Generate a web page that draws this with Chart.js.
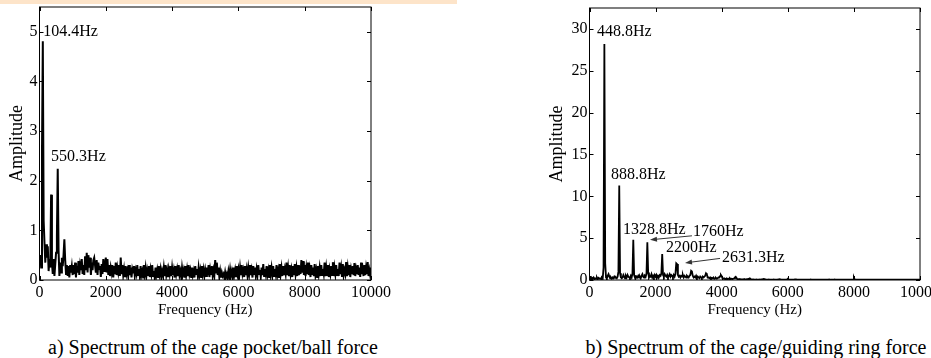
<!DOCTYPE html>
<html>
<head>
<meta charset="utf-8">
<script src="https://cdn.jsdelivr.net/npm/chart.js@4.4.1/dist/chart.umd.min.js"></script>
<style>
  body { margin: 0; background: #fff; width: 931px; height: 358px; overflow: hidden; position: relative; font-family: "Liberation Serif", "Times New Roman", serif; }
  .band { position: absolute; left: 0; top: 0; width: 457px; height: 4px; background: #fde4c9; }
  #leftBox { position: absolute; left: 0; top: 0; width: 400px; height: 320px; }
  #rightBox { position: absolute; left: 540px; top: 0; width: 391px; height: 320px; }
  .caption { position: absolute; top: 336px; font-size: 20px; line-height: 23px; color: #000; white-space: nowrap; }
</style>
</head>
<body>
<div class="band"></div>
<div id="leftBox"><canvas id="leftChart"></canvas></div>
<div id="rightBox"><canvas id="rightChart"></canvas></div>
<div class="caption" id="capA">a) Spectrum of the cage pocket/ball force</div>
<div class="caption" id="capB">b) Spectrum of the cage/guiding ring force</div>

<script>
// spectra sampled every 25 Hz, 0 .. 10000 Hz
const freqStep = 25;

// a) cage pocket/ball force
const pocketAmp = [
  0.30, 0.50, 0.25, 2.60, 4.81, 1.20, 0.75, 0.35, 0.72, 0.45, 0.68, 0.18, 0.42, 0.25, 1.72, 0.35, 0.12, 0.42, 0.08, 0.32,
  0.55, 0.90, 2.24, 0.60, 0.08, 0.35, 0.15, 0.45, 0.28, 0.50, 0.82, 0.40, 0.12, 0.30, 0.08, 0.28, 0.05, 0.30, 0.15, 0.28,
  0.10, 0.30, 0.12, 0.35, 0.05, 0.28, 0.15, 0.38, 0.10, 0.30, 0.20, 0.42, 0.12, 0.30, 0.10, 0.48, 0.20, 0.55, 0.15, 0.50,
  0.25, 0.45, 0.10, 0.35, 0.20, 0.40, 0.45, 0.30, 0.15, 0.40, 0.10, 0.35, 0.22, 0.28, 0.06, 0.32, 0.12, 0.42, 0.18, 0.30,
  0.45, 0.15, 0.42, 0.10, 0.30, 0.08, 0.25, 0.15, 0.30, 0.05, 0.28, 0.12, 0.35, 0.10, 0.25, 0.15, 0.30, 0.08, 0.45, 0.12,
  0.30, 0.10, 0.22, 0.06, 0.28, 0.12, 0.20, 0.08, 0.30, 0.10, 0.25, 0.05, 0.22, 0.15, 0.28, 0.08, 0.20, 0.12, 0.30, 0.10,
  0.22, 0.08, 0.28, 0.10, 0.18, 0.05, 0.30, 0.12, 0.25, 0.08, 0.20, 0.10, 0.28, 0.06, 0.22, 0.12, 0.30, 0.08, 0.18, 0.05,
  0.25, 0.10, 0.20, 0.06, 0.28, 0.12, 0.22, 0.05, 0.18, 0.10, 0.25, 0.08, 0.30, 0.10, 0.20, 0.06, 0.22, 0.12, 0.28, 0.08,
  0.25, 0.10, 0.20, 0.05, 0.28, 0.12, 0.22, 0.08, 0.30, 0.10, 0.18, 0.06, 0.25, 0.12, 0.20, 0.05, 0.28, 0.10, 0.22, 0.08,
  0.30, 0.12, 0.20, 0.06, 0.25, 0.10, 0.18, 0.05, 0.28, 0.12, 0.22, 0.08, 0.25, 0.10, 0.20, 0.06, 0.28, 0.12, 0.22, 0.08,
  0.20, 0.08, 0.25, 0.10, 0.30, 0.06, 0.22, 0.12, 0.28, 0.08, 0.20, 0.10, 0.40, 0.15, 0.35, 0.10, 0.25, 0.06, 0.18, 0.05,
  0.15, 0.08, 0.12, 0.05, 0.16, 0.06, 0.12, 0.04, 0.18, 0.08, 0.22, 0.10, 0.18, 0.05, 0.25, 0.10, 0.20, 0.06, 0.28, 0.12,
  0.22, 0.08, 0.25, 0.10, 0.30, 0.12, 0.20, 0.06, 0.28, 0.10, 0.22, 0.08, 0.25, 0.12, 0.30, 0.10, 0.20, 0.05, 0.28, 0.12,
  0.25, 0.08, 0.22, 0.10, 0.30, 0.12, 0.20, 0.06, 0.25, 0.10, 0.32, 0.08, 0.22, 0.12, 0.28, 0.10, 0.20, 0.06, 0.30, 0.12,
  0.25, 0.10, 0.28, 0.08, 0.22, 0.12, 0.30, 0.10, 0.20, 0.06, 0.32, 0.12, 0.25, 0.08, 0.28, 0.10, 0.22, 0.12, 0.35, 0.10,
  0.25, 0.08, 0.30, 0.12, 0.22, 0.06, 0.28, 0.10, 0.32, 0.12, 0.25, 0.08, 0.30, 0.10, 0.28, 0.12, 0.40, 0.15, 0.38, 0.10,
  0.30, 0.08, 0.25, 0.12, 0.35, 0.10, 0.22, 0.06, 0.30, 0.12, 0.25, 0.08, 0.32, 0.10, 0.20, 0.06, 0.28, 0.12, 0.25, 0.08,
  0.30, 0.10, 0.22, 0.12, 0.35, 0.08, 0.25, 0.10, 0.30, 0.06, 0.22, 0.12, 0.28, 0.10, 0.36, 0.08, 0.25, 0.12, 0.30, 0.10,
  0.22, 0.08, 0.35, 0.12, 0.25, 0.06, 0.32, 0.10, 0.20, 0.12, 0.36, 0.08, 0.25, 0.10, 0.30, 0.06, 0.22, 0.12, 0.28, 0.10,
  0.34, 0.08, 0.22, 0.12, 0.30, 0.10, 0.25, 0.06, 0.35, 0.12, 0.22, 0.08, 0.30, 0.10, 0.25, 0.12, 0.36, 0.08, 0.20, 0.10,
  0.25
];

// b) cage/guiding ring force
const ringAmp = [
  0.05, 0.20, 0.10, 0.25, 0.15, 0.30, 0.10, 0.20, 0.15, 0.30, 0.10, 0.25, 0.15, 0.20, 0.10, 0.30, 0.20, 1.50, 28.2, 2.00,
  0.30, 0.20, 0.50, 0.70, 0.40, 0.20, 0.30, 0.15, 0.30, 0.20, 0.40, 0.25, 0.30, 0.20, 0.40, 1.00, 11.3, 0.80, 0.30, 0.20,
  0.30, 0.60, 0.40, 0.20, 0.50, 0.30, 0.60, 0.40, 0.30, 0.20, 0.50, 0.30, 0.80, 4.80, 0.60, 0.30, 0.20, 0.40, 0.30, 0.50,
  0.30, 0.40, 0.20, 0.50, 0.70, 0.40, 0.30, 0.50, 0.40, 0.80, 4.50, 0.90, 0.30, 0.50, 0.40, 0.70, 0.30, 0.50, 0.30, 0.60,
  0.40, 0.60, 0.30, 0.50, 0.40, 0.60, 0.50, 0.80, 3.10, 0.60, 0.40, 0.70, 0.50, 0.40, 0.60, 0.30, 0.50, 0.70, 0.40, 0.60,
  0.50, 0.30, 0.60, 0.40, 0.70, 2.00, 1.90, 0.60, 0.40, 0.50, 0.30, 0.50, 0.40, 0.60, 0.30, 0.50, 0.40, 0.30, 0.50, 0.40,
  0.30, 0.50, 0.60, 1.10, 1.00, 0.50, 0.30, 0.40, 0.30, 0.50, 0.20, 0.40, 0.30, 0.20, 0.40, 0.30, 0.20, 0.40, 0.30, 0.40,
  0.50, 0.80, 0.70, 0.30, 0.30, 0.20, 0.30, 0.15, 0.25, 0.20, 0.30, 0.15, 0.20, 0.25, 0.15, 0.20, 0.30, 0.30, 0.45, 0.60,
  0.45, 0.20, 0.15, 0.20, 0.10, 0.15, 0.20, 0.10, 0.15, 0.10, 0.20, 0.10, 0.15, 0.10, 0.15, 0.20, 0.30, 0.38, 0.25, 0.10,
  0.08, 0.12, 0.05, 0.10, 0.08, 0.05, 0.10, 0.06, 0.08, 0.05, 0.10, 0.06, 0.12, 0.15, 0.20, 0.12, 0.05, 0.08, 0.05, 0.06,
  0.05, 0.03, 0.06, 0.04, 0.05, 0.03, 0.07, 0.04, 0.06, 0.08, 0.10, 0.12, 0.10, 0.06, 0.04, 0.05, 0.03, 0.06, 0.04, 0.05,
  0.03, 0.05, 0.04, 0.06, 0.03, 0.05, 0.04, 0.03, 0.06, 0.08, 0.10, 0.08, 0.05, 0.04, 0.03, 0.05, 0.04, 0.03, 0.05, 0.04,
  0.15, 0.06, 0.04, 0.03, 0.05, 0.04, 0.03, 0.05, 0.06, 0.08, 0.06, 0.04, 0.03, 0.04, 0.03, 0.05, 0.04, 0.03, 0.05, 0.04,
  0.03, 0.04, 0.03, 0.05, 0.04, 0.03, 0.04, 0.05, 0.06, 0.05, 0.03, 0.04, 0.03, 0.05, 0.04, 0.03, 0.04, 0.03, 0.05, 0.04,
  0.03, 0.04, 0.03, 0.05, 0.04, 0.03, 0.04, 0.03, 0.05, 0.04, 0.06, 0.05, 0.03, 0.04, 0.03, 0.04, 0.03, 0.05, 0.04, 0.03,
  0.04, 0.03, 0.04, 0.03, 0.05, 0.04, 0.03, 0.04, 0.03, 0.04, 0.03, 0.05, 0.04, 0.03, 0.04, 0.03, 0.04, 0.03, 0.05, 0.06,
  0.30, 0.06, 0.04, 0.03, 0.04, 0.03, 0.04, 0.03, 0.04, 0.03, 0.04, 0.03, 0.04, 0.03, 0.04, 0.05, 0.03, 0.04, 0.03, 0.04,
  0.03, 0.04, 0.03, 0.04, 0.03, 0.04, 0.03, 0.04, 0.03, 0.04, 0.03, 0.04, 0.03, 0.04, 0.03, 0.04, 0.03, 0.04, 0.03, 0.04,
  0.03, 0.04, 0.03, 0.04, 0.03, 0.04, 0.03, 0.04, 0.03, 0.04, 0.03, 0.04, 0.03, 0.04, 0.03, 0.04, 0.03, 0.04, 0.03, 0.04,
  0.03, 0.04, 0.03, 0.04, 0.03, 0.04, 0.03, 0.04, 0.03, 0.04, 0.03, 0.04, 0.03, 0.04, 0.03, 0.04, 0.03, 0.04, 0.03, 0.04,
  0.03
];

// peak labels, placed in data coordinates (frequency of text start, amplitude of text middle)
const pocketLabels = ['104.4Hz', '550.3Hz'];
const pocketLabelFreq = [110, 350];
const pocketLabelAmp = [5.0, 2.48];

const ringLabels = ['448.8Hz', '888.8Hz', '1328.8Hz', '1760Hz', '2200Hz', '2631.3Hz'];
const ringLabelFreq = [227, 650, 1014, 3132, 2315, 4009];
const ringLabelAmp = [29.6, 12.6, 6.0, 5.76, 3.84, 2.64];

// arrows: tail -> head, data coordinates
const ringArrowFrom = [[3100, 5.28], [3950, 2.58]];
const ringArrowTo = [[1830, 4.8], [2890, 2.04]];

const xTicks = [0, 2000, 4000, 6000, 8000, 10000];

Chart.defaults.font.family = '"Liberation Serif", "Times New Roman", serif';
Chart.defaults.color = '#000';

function toPoints(amp) {
  return amp.map((v, i) => ({ x: i * freqStep, y: v }));
}

// MATLAB style box with inward ticks on all four sides
const framePlugin = {
  id: 'frame',
  afterDraw(chart) {
    const { ctx, chartArea: a, scales: { x, y } } = chart;
    ctx.save();
    ctx.strokeStyle = '#000';
    ctx.lineWidth = 1;
    ctx.beginPath();
    x.ticks.forEach(t => {
      const px = Math.round(x.getPixelForValue(t.value)) + 0.5;
      ctx.moveTo(px, a.bottom); ctx.lineTo(px, a.bottom - 4);
      ctx.moveTo(px, a.top); ctx.lineTo(px, a.top + 4);
    });
    y.ticks.forEach(t => {
      const py = Math.round(y.getPixelForValue(t.value)) + 0.5;
      ctx.moveTo(a.left, py); ctx.lineTo(a.left + 4, py);
      ctx.moveTo(a.right, py); ctx.lineTo(a.right - 4, py);
    });
    ctx.stroke();
    ctx.strokeRect(a.left, a.top, a.right - a.left, a.bottom - a.top);
    ctx.restore();
  }
};

function labelPlugin(texts, freqs, amps, arrowFrom, arrowTo) {
  return {
    id: 'peakLabels',
    afterDatasetsDraw(chart) {
      const { ctx, scales: { x, y } } = chart;
      ctx.save();
      ctx.font = '16px "Liberation Serif", "Times New Roman", serif';
      ctx.fillStyle = '#000';
      ctx.textAlign = 'left';
      ctx.textBaseline = 'middle';
      texts.forEach((t, i) => {
        ctx.fillText(t, x.getPixelForValue(freqs[i]), y.getPixelForValue(amps[i]));
      });
      ctx.strokeStyle = '#333';
      ctx.fillStyle = '#333';
      ctx.lineWidth = 1;
      arrowFrom.forEach((f, i) => {
        const x0 = x.getPixelForValue(f[0]), y0 = y.getPixelForValue(f[1]);
        const x1 = x.getPixelForValue(arrowTo[i][0]), y1 = y.getPixelForValue(arrowTo[i][1]);
        const ang = Math.atan2(y1 - y0, x1 - x0);
        ctx.beginPath();
        ctx.moveTo(x0, y0);
        ctx.lineTo(x1 - 5 * Math.cos(ang), y1 - 5 * Math.sin(ang));
        ctx.stroke();
        ctx.beginPath();
        ctx.moveTo(x1, y1);
        ctx.lineTo(x1 - 7 * Math.cos(ang) + 2.5 * Math.sin(ang), y1 - 7 * Math.sin(ang) - 2.5 * Math.cos(ang));
        ctx.lineTo(x1 - 7 * Math.cos(ang) - 2.5 * Math.sin(ang), y1 - 7 * Math.sin(ang) + 2.5 * Math.cos(ang));
        ctx.closePath();
        ctx.fill();
      });
      ctx.restore();
    }
  };
}

function makeChart(canvasId, amp, lineW, yMax, yStep, yWidth, padRight, padTop, plugins) {
  return new Chart(document.getElementById(canvasId),
  {
    type: 'line',
    data:
    {
      datasets:
      [
        {
          data: toPoints(amp),
          borderColor: '#000',
          borderWidth: lineW,
          pointRadius: 0,
          tension: 0,
          fill: false
        }
      ]
    },
    options:
    {
      responsive: true,
      maintainAspectRatio: false,
      animation: false,
      events: [],
      layout: { padding: { left: 0, right: padRight, top: padTop, bottom: 0 } },
      plugins:
      {
        legend: { display: false },
        tooltip: { enabled: false }
      },
      scales:
      {
        x:
        {
          type: 'linear',
          min: 0,
          max: 10000,
          afterBuildTicks: s => { s.ticks = xTicks.map(v => ({ value: v })); },
          afterFit: s => { s.height = 40; s.paddingLeft = 0; s.paddingRight = 0; },
          grid: { display: false, drawTicks: false },
          border: { display: false },
          ticks: { font: { size: 16 }, padding: 3, maxRotation: 0, autoSkip: false, callback: v => String(v) },
          title: { display: true, text: 'Frequency (Hz)', font: { size: 15 }, padding: { top: 0, bottom: 1 } }
        },
        y:
        {
          min: 0,
          max: yMax,
          afterFit: s => { s.width = yWidth; s.paddingTop = 0; s.paddingBottom = 0; },
          grid: { display: false, drawTicks: false },
          border: { display: false },
          ticks: { stepSize: yStep, includeBounds: false, font: { size: 16 }, padding: 2 },
          title: { display: true, text: 'Amplitude', font: { size: 18 }, padding: { top: 6, bottom: 0 } }
        }
      }
    },
    plugins: plugins
  });
}

makeChart('leftChart', pocketAmp, 2, 5.5, 1, 39.5, 29, 7,
  [framePlugin, labelPlugin(pocketLabels, pocketLabelFreq, pocketLabelAmp, [], [])]);

makeChart('rightChart', ringAmp, 1.8, 32.5, 5, 49.5, 11, 8,
  [framePlugin, labelPlugin(ringLabels, ringLabelFreq, ringLabelAmp, ringArrowFrom, ringArrowTo)]);

// centre the captions under their panels
const capA = document.getElementById('capA');
const capB = document.getElementById('capB');
capA.style.left = (213 - capA.offsetWidth / 2) + 'px';
capB.style.left = (756 - capB.offsetWidth / 2) + 'px';
</script>
</body>
</html>
